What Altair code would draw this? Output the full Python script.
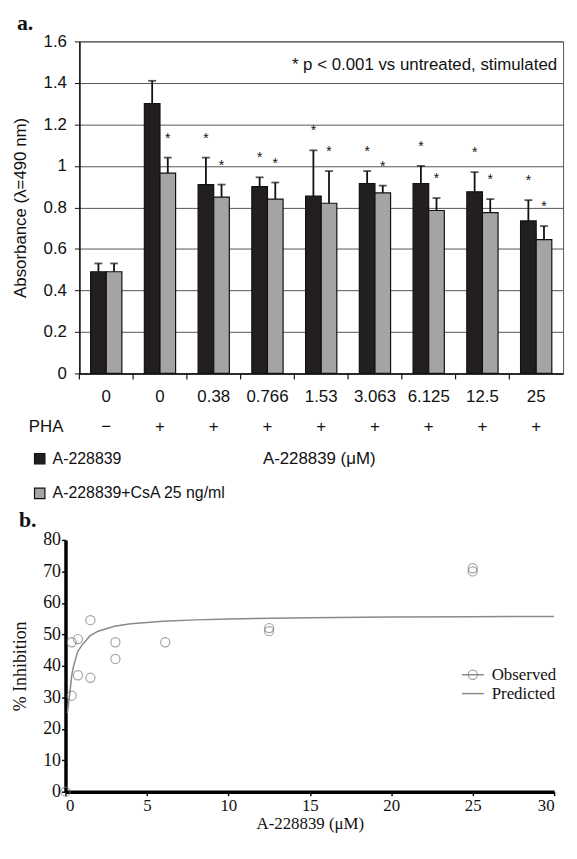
import altair as alt
import pandas as pd

SANS = "Liberation Sans"
SERIF = "Liberation Serif"

# ---------------- Panel a data ----------------
conc_labels = ["0", "0", "0.38", "0.766", "1.53", "3.063", "6.125", "12.5", "25"]
pha_signs = ["\u2212", "+", "+", "+", "+", "+", "+", "+", "+"]
series_names = ["A-228839", "A-228839+CsA 25 ng/ml"]
mean_drug = [0.49, 1.30, 0.91, 0.90, 0.855, 0.915, 0.915, 0.875, 0.735]
sd_drug = [0.04, 0.11, 0.13, 0.045, 0.22, 0.06, 0.085, 0.095, 0.10]
mean_csa = [0.49, 0.965, 0.85, 0.84, 0.82, 0.87, 0.785, 0.775, 0.645]
sd_csa = [0.04, 0.075, 0.06, 0.08, 0.155, 0.035, 0.06, 0.065, 0.065]
sig_drug = [0, 0, 1, 1, 1, 1, 1, 1, 1]
sig_csa = [0, 1, 1, 1, 1, 1, 1, 1, 1]
y_ticks_a = [0, 0.2, 0.4, 0.6, 0.8, 1, 1.2, 1.4, 1.6]

# ---------------- Panel b data ----------------
obs_conc = [0, 0.38, 0.38, 0.766, 0.766, 1.53, 1.53, 3.063, 3.063, 6.125, 12.5, 12.5, 25, 25]
obs_inhib = [0, 30.5, 47.5, 48.5, 37, 36.2, 54.5, 47.5, 42.2, 47.5, 52, 51, 71, 70]
pred_conc = [0.12, 0.2, 0.3, 0.4, 0.5, 0.75, 1, 1.5, 2, 3, 4, 6, 8, 10, 15, 20, 25, 30]
pred_inhib = [25, 28.5, 33, 37.5, 40, 44.5, 46.5, 49.5, 51, 52.6, 53.4, 54.2, 54.6, 54.9, 55.3, 55.5, 55.6, 55.7]
x_ticks_b = [0, 5, 10, 15, 20, 25, 30]
y_ticks_b = [0, 10, 20, 30, 40, 50, 60, 70, 80]

keys = [f"{c}|{i}" for i, c in enumerate(conc_labels)]
rows = []
for i, k in enumerate(keys):
    rows.append(dict(key=k, series=series_names[0], mean=mean_drug[i], sd=sd_drug[i], sig=sig_drug[i]))
    rows.append(dict(key=k, series=series_names[1], mean=mean_csa[i], sd=sd_csa[i], sig=sig_csa[i]))
df_a = pd.DataFrame(rows)
df_keys = pd.DataFrame({"key": keys, "pha": pha_signs})
df_one = pd.DataFrame({"k": [0]})

W_A, H_A = 488, 335

x_axis = alt.Axis(title=None, labelExpr="split(datum.value, '|')[0]", labelAngle=0,
                  ticks=False, tickSize=0, labelPadding=15, labelFont=SANS, labelFontSize=17,
                  labelColor="#111", domainColor="#111", domainWidth=1.5, grid=False)
x_scale = alt.Scale(paddingInner=0, paddingOuter=0)
x_enc = alt.X("key:N", sort=keys, scale=x_scale, axis=x_axis)
xo_enc = alt.XOffset("series:N", sort=series_names,
                     scale=alt.Scale(paddingInner=0, paddingOuter=0.72))
y_scale_a = alt.Scale(domain=[0, 1.6], nice=False)
y_enc = alt.Y("mean:Q", scale=y_scale_a,
              axis=alt.Axis(values=y_ticks_a, format="~g", title="Absorbance (\u03bb=490 nm)",
                            titleFont=SANS, titleFontSize=17, titleFontWeight="normal",
                            titleColor="#111", titlePadding=14,
                            labelFont=SANS, labelFontSize=17, labelColor="#111", labelPadding=8,
                            tickSize=5, tickColor="#111", domainColor="#111", domainWidth=1.5,
                            grid=True, gridColor="#555", gridWidth=1))

base_a = alt.Chart(df_a).transform_calculate(top="datum.mean + datum.sd")

bars = base_a.mark_bar(stroke="#111", strokeWidth=1.2).encode(
    x=x_enc, xOffset=xo_enc, y=y_enc,
    color=alt.Color("series:N", sort=series_names,
                    scale=alt.Scale(domain=series_names, range=["#231f20", "#a4a4a6"]),
                    legend=alt.Legend(orient="none", legendX=-48, legendY=413, title=None,
                                      symbolType="square", symbolSize=110,
                                      symbolStrokeColor="#111", symbolStrokeWidth=1.2,
                                      labelFont=SANS, labelFontSize=16, labelColor="#111",
                                      labelLimit=400, rowPadding=19, labelOffset=5, padding=0,
                                      direction="vertical")),
)
err = base_a.mark_rule(color="#111", strokeWidth=1.8).encode(
    x=x_enc, xOffset=xo_enc, y=alt.Y("mean:Q", scale=y_scale_a), y2="top:Q")
caps = base_a.mark_tick(color="#111", thickness=1.8, size=8).encode(
    x=x_enc, xOffset=xo_enc, y=alt.Y("top:Q", scale=y_scale_a))
stars = base_a.transform_filter("datum.sig == 1").mark_text(
    text="*", font=SANS, fontSize=14, dy=-19, color="#111").encode(
    x=x_enc, xOffset=xo_enc, y=alt.Y("top:Q", scale=y_scale_a))
cat_ticks = alt.Chart(df_keys).mark_rule(color="#111", strokeWidth=1.2).encode(
    x=alt.X("key:N", sort=keys, scale=x_scale, axis=x_axis, bandPosition=0),
    y=alt.value(H_A), y2=alt.value(H_A + 6))
pha_row = alt.Chart(df_keys).mark_text(font=SANS, fontSize=17, color="#111").encode(
    x=alt.X("key:N", sort=keys, scale=x_scale, axis=x_axis),
    y=alt.value(389), text="pha:N")
pha_lbl = alt.Chart(df_one).mark_text(text="PHA", font=SANS, fontSize=17, align="left",
                                      color="#111").encode(x=alt.value(-51), y=alt.value(389))
xtitle_a = alt.Chart(df_one).mark_text(text="A-228839 (\u03bcM)", font=SANS, fontSize=17,
                                       color="#111").encode(x=alt.value(242), y=alt.value(421))
note = alt.Chart(df_one).mark_text(text="* p < 0.001 vs untreated, stimulated", font=SANS,
                                   fontSize=17, align="right", color="#111").encode(
    x=alt.value(482), y=alt.value(24))
lab_a = alt.Chart(df_one).mark_text(text="a.", font=SERIF, fontSize=22, fontWeight="bold",
                                    align="left", color="#111").encode(
    x=alt.value(-63), y=alt.value(-18))

chart_a = alt.layer(bars, err, caps, stars, cat_ticks, pha_row, pha_lbl, xtitle_a, note, lab_a).properties(
    width=W_A, height=H_A, view=alt.ViewBackground(stroke="#555", strokeWidth=1))

# ---------------- Panel b ----------------
# panel b origin shares panel a's left edge; its axes sit 14 px further left
SHIFT = 14
W_B, H_B = 479, 254
df_obs = pd.DataFrame({"conc": obs_conc, "inhib": obs_inhib})
df_pred = pd.DataFrame({"conc": pred_conc, "inhib": pred_inhib})

x_b = alt.X("conc:Q", scale=alt.Scale(domain=[0, 30], nice=False, range=[-SHIFT, W_B]),
            axis=alt.Axis(values=x_ticks_b, title="A-228839 (\u03bcM)", titleFont=SERIF,
                          titleFontSize=17, titleFontWeight="normal", titleColor="#111",
                          titlePadding=2, labelFont=SERIF, labelFontSize=17, labelColor="#111",
                          labelPadding=2, tickSize=4, tickWidth=1.5, tickColor="#111",
                          domainColor="#000", domainWidth=3.5, grid=False,
                          titleX=(W_B - SHIFT) / 2))
y_b = alt.Y("inhib:Q", scale=alt.Scale(domain=[0, 80], nice=False),
            axis=alt.Axis(values=y_ticks_b, title="% Inhibition", titleFont=SERIF,
                          titleFontSize=18, titleFontWeight="normal", titleColor="#111",
                          titlePadding=13, labelFont=SERIF, labelFontSize=18, labelColor="#111",
                          labelPadding=1, tickSize=4, tickWidth=1.5, tickColor="#111",
                          domainColor="#000", domainWidth=3.5, grid=False, offset=SHIFT))

pts = alt.Chart(df_obs).mark_point(shape="circle", filled=False, size=85, color="#7d7d7d",
                                   strokeWidth=1.2).encode(x=x_b, y=y_b)
curve = alt.Chart(df_pred).mark_line(color="#8a8a8a", strokeWidth=1.5).encode(x=x_b, y=y_b)

leg_obs_line = alt.Chart(df_one).mark_rule(color="#8a8a8a", strokeWidth=1.5).encode(
    x=alt.value(386), x2=alt.value(408), y=alt.value(136))
leg_obs_pt = alt.Chart(df_one).mark_point(shape="circle", filled=False, size=85, color="#7d7d7d",
                                          strokeWidth=1.2).encode(x=alt.value(397), y=alt.value(136))
leg_pred_line = alt.Chart(df_one).mark_rule(color="#8a8a8a", strokeWidth=1.5).encode(
    x=alt.value(386), x2=alt.value(408), y=alt.value(155))
leg_obs_txt = alt.Chart(df_one).mark_text(text="Observed", font=SERIF, fontSize=17, align="left",
                                          color="#111").encode(x=alt.value(416), y=alt.value(136))
leg_pred_txt = alt.Chart(df_one).mark_text(text="Predicted", font=SERIF, fontSize=17, align="left",
                                           color="#111").encode(x=alt.value(416), y=alt.value(155))
lab_b = alt.Chart(df_one).mark_text(text="b.", font=SERIF, fontSize=22, fontWeight="bold",
                                    align="left", color="#111").encode(
    x=alt.value(-61), y=alt.value(-20))

chart_b = alt.layer(curve, pts, leg_obs_line, leg_obs_pt, leg_pred_line, leg_obs_txt,
                    leg_pred_txt, lab_b).properties(
    width=W_B, height=H_B, view=alt.ViewBackground(stroke="transparent"))

chart = alt.ConcatChart(concat=[chart_a, chart_b], columns=1, bounds="flush",
                        spacing=168).properties(
    padding={"left": 2, "top": 0, "right": 0, "bottom": 0}
).configure_view(stroke="transparent")

chart.save("out.html", embed_options={"renderer": "svg", "actions": False})
